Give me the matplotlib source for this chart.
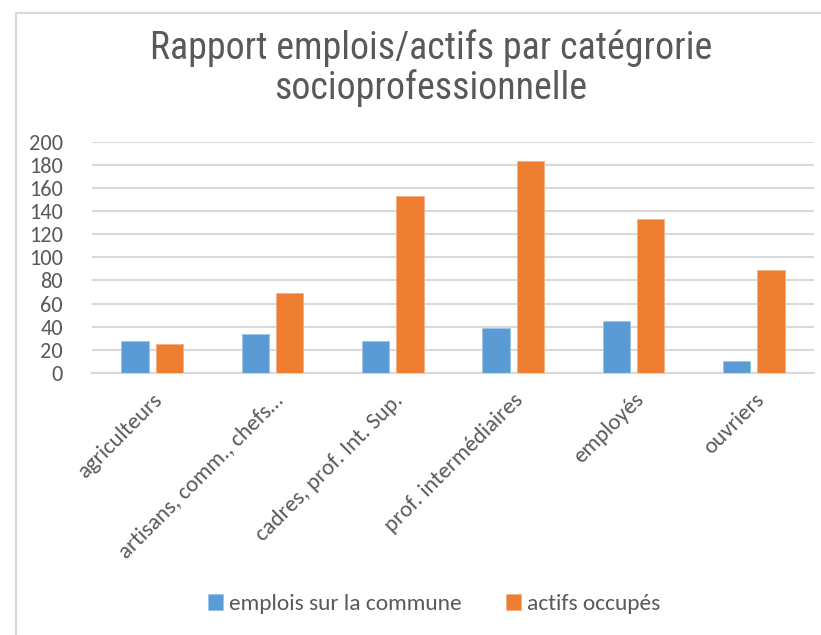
import matplotlib
matplotlib.use("Agg")
import matplotlib.pyplot as plt
import numpy as np
from matplotlib.patches import Rectangle

categories = ["agriculteurs", "artisans, comm., chefs…", "cadres, prof. Int. Sup.",
              "prof. intermédiaires", "employés", "ouvriers"]
emplois = [28, 34, 28, 39, 45, 10]
actifs = [25, 69, 153, 183, 133, 89]
series_names = ["emplois sur la commune", "actifs occupés"]
yticks = [0, 20, 40, 60, 80, 100, 120, 140, 160, 180, 200]

W, H = 821, 635
fig = plt.figure(figsize=(W / 100, H / 100), dpi=100)
fig.patch.set_facecolor("white")
TXT = ["Carlito", "DejaVu Sans"]

# chart border
fig.patches.append(Rectangle((16 / W, -0.05), 1.1, 1 - 13 / H + 0.05, transform=fig.transFigure,
                             fill=False, edgecolor="#d9d9d9", linewidth=1.5))

ax = fig.add_axes([92 / W, 1 - 373 / H, 722 / W, (373 - 141.7) / H])
x = np.arange(len(categories))
bw = 0.227
off = 0.142
ax.bar(x - off, emplois, bw, color="#5B9BD5", edgecolor="#9cc3e6", linewidth=0.6, label=series_names[0], zorder=3)
ax.bar(x + off, actifs, bw, color="#ED7D31", edgecolor="#f4b183", linewidth=0.6, label=series_names[1], zorder=3)

ax.set_xlim(-0.5, len(categories) - 0.5)
ax.set_ylim(0, 200)
ax.set_yticks(yticks)
ax.grid(axis="y", color="#d9d9d9", linewidth=1.5, zorder=0)
ax.set_axisbelow(True)
for s in ["top", "right", "left"]:
    ax.spines[s].set_visible(False)
ax.spines["bottom"].set_color("#d9d9d9")
ax.spines["bottom"].set_linewidth(1.5)
ax.tick_params(axis="both", length=0, colors="#595959")
ax.tick_params(axis="y", pad=21, labelsize=16)
ax.set_xticks(x)
ax.set_xticklabels(categories, rotation=45, ha="right", rotation_mode="anchor", family=TXT, fontsize=16.5)
for lab in ax.get_yticklabels():
    lab.set_family(TXT)
ax.tick_params(axis="x", pad=12)

fig.text(431 / W, 1 - 68 / H, "Rapport emplois/actifs par catégrorie\nsocioprofessionnelle",
         ha="center", va="center", fontsize=27.3, color="#595959",
         family=["Roboto Condensed", "DejaVu Sans"], linespacing=1.1)

leg = fig.legend(loc="center", bbox_to_anchor=(434 / W, 1 - 604 / H), ncol=2, frameon=False,
                 prop={"family": TXT, "size": 16.8}, handlelength=0.65, handleheight=0.65,
                 handletextpad=0.25, columnspacing=1.9)
for t in leg.get_texts():
    t.set_color("#595959")

fig.savefig("out.png", dpi=100)
